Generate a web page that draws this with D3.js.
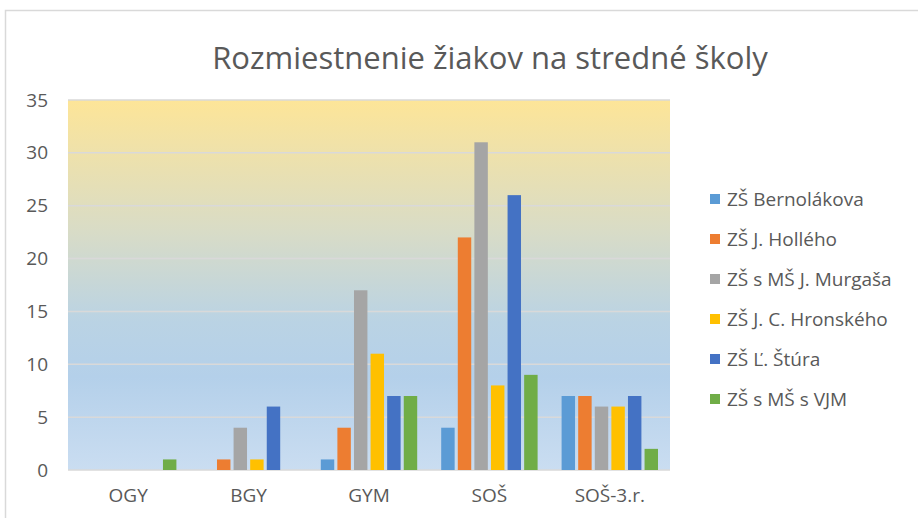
<!DOCTYPE html>
<html>
<head>
<meta charset="utf-8">
<script src="https://cdn.jsdelivr.net/npm/d3@7"></script>
<style>
  body { margin: 0; background: #fff; }
  svg { display: block; font-family: "Open Sans", "Noto Sans", sans-serif; }
</style>
</head>
<body>
<svg width="918" height="518"></svg>
<script>
var categories = ["OGY", "BGY", "GYM", "SOŠ", "SOŠ-3.r."];
var schools = ["ZŠ Bernolákova", "ZŠ J. Hollého", "ZŠ s MŠ J. Murgaša", "ZŠ J. C. Hronského", "ZŠ Ľ. Štúra", "ZŠ s MŠ s VJM"];
var colors = ["#5B9BD5", "#ED7D31", "#A5A5A5", "#FFC000", "#4472C4", "#70AD47"];
// hodnoty pre kazdu skolu po kategoriach
var bernolakova = [0, 0, 1, 4, 7];
var hollego = [0, 1, 4, 22, 7];
var murgasa = [0, 4, 17, 31, 6];
var hronskeho = [0, 1, 11, 8, 6];
var stura = [0, 6, 7, 26, 7];
var vjm = [1, 0, 7, 9, 2];
var values = [bernolakova, hollego, murgasa, hronskeho, stura, vjm];
var yTicks = [0, 5, 10, 15, 20, 25, 30, 35];

var svg = d3.select("svg");
var plotLeft = 68, plotRight = 670, plotTop = 100, plotBottom = 470;

// outer frame
svg.append("rect")
  .attr("x", 5.5).attr("y", 10.5)
  .attr("width", 940).attr("height", 540)
  .attr("fill", "none").attr("stroke", "#d9d9d9").attr("stroke-width", 1.5);

var defs = svg.append("defs");
var grad = defs.append("linearGradient").attr("id", "bg")
  .attr("x1", 0).attr("y1", 0).attr("x2", 0).attr("y2", 1);
grad.append("stop").attr("offset", "0%").attr("stop-color", "#FDE598");
grad.append("stop").attr("offset", "35%").attr("stop-color", "#D9DCC6");
grad.append("stop").attr("offset", "60%").attr("stop-color", "#BAD3E4");
grad.append("stop").attr("offset", "75%").attr("stop-color", "#B4D0EA");
grad.append("stop").attr("offset", "100%").attr("stop-color", "#CADDF1");

var y = d3.scaleLinear().domain([0, 35]).range([plotBottom, plotTop]);
var x0 = d3.scaleBand().domain(categories).range([plotLeft, plotRight]);
var x1 = d3.scaleBand().domain(d3.range(schools.length))
  .range([12, x0.bandwidth() - 12]).paddingInner(0.19);

svg.append("rect")
  .attr("x", plotLeft).attr("y", plotTop)
  .attr("width", plotRight - plotLeft).attr("height", plotBottom - plotTop)
  .attr("fill", "url(#bg)");

// grid
svg.append("g").selectAll("line")
  .data(yTicks)
  .enter().append("line")
  .attr("x1", plotLeft).attr("x2", plotRight)
  .attr("y1", function(d) { return y(d); })
  .attr("y2", function(d) { return y(d); })
  .attr("stroke", "#d9d9d9").attr("stroke-width", 1.5);

// y labels
var yAxis = svg.append("g")
  .attr("transform", "translate(" + (plotLeft - 20) + ",0)")
  .call(d3.axisLeft(y).tickValues(yTicks).tickSize(0).tickPadding(0));
yAxis.select(".domain").remove();
yAxis.selectAll("text")
  .attr("font-size", "19px").attr("fill", "#595959")
  .attr("font-family", "Open Sans");

// bars
var groups = svg.append("g").selectAll("g")
  .data(categories)
  .enter().append("g")
  .attr("transform", function(d) { return "translate(" + x0(d) + ",0)"; });

groups.selectAll("rect")
  .data(function(c, ci) {
    return values.map(function(v, si) { return { s: si, v: v[ci] }; }).filter(function(d) { return d.v > 0; });
  })
  .enter().append("rect")
  .attr("x", function(d) { return x1(d.s); })
  .attr("width", x1.bandwidth())
  .attr("y", function(d) { return y(d.v); })
  .attr("height", function(d) { return y(0) - y(d.v); })
  .attr("fill", function(d) { return colors[d.s]; });

// x labels
var xAxis = svg.append("g")
  .attr("transform", "translate(0," + (plotBottom + 18) + ")")
  .call(d3.axisBottom(x0).tickSize(0).tickPadding(0));
xAxis.select(".domain").remove();
xAxis.selectAll("text")
  .attr("font-size", "19px").attr("fill", "#595959")
  .attr("font-family", "Open Sans");

// title
svg.append("text")
  .attr("x", 490).attr("y", 69)
  .attr("text-anchor", "middle")
  .attr("font-size", "31px").attr("fill", "#595959")
  .text("Rozmiestnenie žiakov na stredné školy");

// legend
var legend = svg.append("g").selectAll("g")
  .data(schools)
  .enter().append("g")
  .attr("transform", function(d, i) { return "translate(710," + (199 + i * 40) + ")"; });

legend.append("rect")
  .attr("x", 0).attr("y", -5)
  .attr("width", 10).attr("height", 10)
  .attr("fill", function(d, i) { return colors[i]; });

legend.append("text")
  .attr("x", 17).attr("y", 0).attr("dy", "0.35em")
  .attr("font-size", "19px").attr("fill", "#595959")
  .text(function(d) { return d; });
</script>
</body>
</html>
